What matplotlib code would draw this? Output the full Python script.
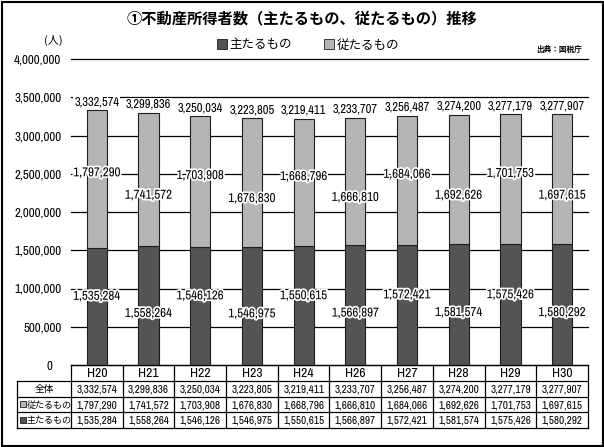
import matplotlib
matplotlib.use('Agg')
import matplotlib.pyplot as plt
import matplotlib.patheffects as pe
from matplotlib import font_manager
from matplotlib.patches import Rectangle, Patch
from matplotlib.textpath import TextPath
from matplotlib.ticker import FuncFormatter
from matplotlib.transforms import ScaledTranslation

# data
years = ['H20', 'H21', 'H22', 'H23', 'H24', 'H26', 'H27', 'H28', 'H29', 'H30']
totals = [3332574, 3299836, 3250034, 3223805, 3219411, 3233707, 3256487, 3274200, 3277179, 3277907]
sub_vals = [1797290, 1741572, 1703908, 1676830, 1668796, 1666810, 1684066, 1692626, 1701753, 1697615]
main_vals = [1535284, 1558264, 1546126, 1546975, 1550615, 1566897, 1572421, 1581574, 1575426, 1580292]

title = '①不動産所得者数（主たるもの、従たるもの）推移'
main_label = '主たるもの'
sub_label = '従たるもの'

# the reference uses a condensed face for numbers; use one if there is any
fonts = font_manager.fontManager.ttflist
narrow = [f for f in fonts
          if ('Narrow' in f.name or 'Condensed' in f.name or f.stretch in ('condensed', 'semi-condensed'))
          and f.weight in (400, 'normal', 'regular') and f.style == 'normal']
narrow.sort(key=lambda f: 0 if 'Narrow' in f.name else 1)
if narrow:
    NUM = font_manager.FontProperties(fname=narrow[0].fname)
else:
    NUM = font_manager.FontProperties(family='Liberation Sans')
JP = ['Noto Sans CJK JP', 'DejaVu Sans']
plt.rcParams['font.family'] = ['Liberation Sans', 'Noto Sans CJK JP', 'DejaVu Sans']

DARK = '#545454'
LIGHT = '#b5b5b5'
EDGE = '#1e1e1e'

W, H = 604, 447
fig = plt.figure(figsize=(W / 100, H / 100), dpi=100)


def px(x0, y0, x1, y1):
    # pixel box (left, top, right, bottom) -> figure fraction rect
    return [x0 / W, 1 - y1 / H, (x1 - x0) / W, (y1 - y0) / H]


def num(sample, width_px):
    # font size that makes `sample` about width_px wide
    p = NUM.copy()
    p.set_size(10)
    w = TextPath((0, 0), sample, prop=p).get_extents().width * 100 / 72
    p.set_size(10 * width_px / w)
    return p


f_tick = num('2,500,000', 46)
f_total = num('3,332,574', 45)
f_seg = num('1,797,290', 46)
f_cell = num('3,332,574', 40)
f_year = num('H20', 19)

# bar chart
ax = fig.add_axes(px(71, 59, 588, 365))
xs = list(range(len(years)))
ax.bar(xs, main_vals, width=0.39, color=DARK, edgecolor=EDGE, linewidth=0.8, zorder=3)
ax.bar(xs, sub_vals, bottom=main_vals, width=0.39, color=LIGHT, edgecolor=EDGE, linewidth=0.8, zorder=3)
ax.set_xlim(-0.5, len(years) - 0.5)
ax.set_ylim(0, 4000000)
ax.set_yticks(range(0, 4000001, 500000))
ax.yaxis.set_major_formatter(FuncFormatter(lambda v, p: f'{int(v):,}'))
ax.set_xticks([])
ax.tick_params(axis='y', length=0, pad=7)
for t in ax.get_yticklabels():
    t.set_fontproperties(f_tick)
# the zero label sits a bit further left in the original
zero = ax.yaxis.get_major_ticks()[0].label1
zero.set_transform(zero.get_transform() + ScaledTranslation(-0.09, 0, fig.dpi_scale_trans))
for s in ax.spines.values():
    s.set_visible(False)
ax.grid(axis='y', color='black', linewidth=0.9, zorder=0)
for gl in ax.get_ygridlines():
    gl.set_clip_on(False)

halo = [pe.withStroke(linewidth=2.5, foreground='white')]
for i in xs:
    ax.annotate(f'{totals[i]:,}', (i, totals[i]), xytext=(0, 3), textcoords='offset pixels',
                ha='center', va='bottom', fontproperties=f_total, zorder=5,
                bbox=dict(fc='white', ec='none', pad=0.6))
    up = i % 2 == 0
    ax.annotate(f'{sub_vals[i]:,}', (i, main_vals[i] + sub_vals[i] / 2),
                xytext=(0, 6 if up else -16), textcoords='offset pixels',
                ha='center', va='center', fontproperties=f_seg, zorder=5, path_effects=halo)
    ax.annotate(f'{main_vals[i]:,}', (i, main_vals[i] / 2),
                xytext=(0, 10 if up else -8), textcoords='offset pixels',
                ha='center', va='center', fontproperties=f_seg, zorder=5, path_effects=halo)

# data table below the bars
lab_w = 54 / 51.7
tax = fig.add_axes(px(17, 365, 588, 428))
tax.set_xlim(-0.5 - lab_w, len(years) - 0.5)
tax.set_ylim(4, 0)
tax.axis('off')
left = -0.5 - lab_w
right = len(years) - 0.5
lk = dict(color='black', linewidth=0.9, clip_on=False)
tax.plot([-0.5, right], [0, 0], **lk)
for r in [1, 2, 3, 4]:
    tax.plot([left, right], [r, r], **lk)
tax.plot([left, left], [1, 4], **lk)
for c in [-0.5] + [i + 0.5 for i in xs]:
    tax.plot([c, c], [0, 4], **lk)

rows = [totals, sub_vals, main_vals]
for i in xs:
    tax.text(i, 0.55, years[i], ha='center', va='center', fontproperties=f_year)
    for r, vals in enumerate(rows):
        tax.text(i, r + 1.55, f'{vals[i]:,}', ha='center', va='center', fontproperties=f_cell)

tax.text(left + lab_w / 2, 1.55, '全体', ha='center', va='center', fontsize=7, family=JP)
sq_w = 6 / 51.7
sq_h = 6 / 15.75
for r, (lab, col) in enumerate([(sub_label, LIGHT), (main_label, DARK)]):
    tax.add_patch(Rectangle((left + 3 / 51.7, r + 2.5 - sq_h / 2), sq_w, sq_h,
                            facecolor=col, edgecolor=EDGE, linewidth=0.6, clip_on=False))
    tax.text(left + 10 / 51.7, r + 2.55, lab, ha='left', va='center', fontsize=6.5, family=JP)

# title, legend, unit, source
fig.text(0.5, 1 - 18 / H, title, ha='center', va='center', fontsize=11,
         fontweight='bold', family=JP)
handles = [Patch(facecolor=DARK, edgecolor=EDGE, linewidth=0.6),
           Patch(facecolor=LIGHT, edgecolor=EDGE, linewidth=0.6)]
fig.legend(handles, [main_label, sub_label], loc='center', bbox_to_anchor=(308 / W, 1 - 45 / H),
           ncol=2, frameon=False, handlelength=0.8, handleheight=0.8, handletextpad=0.2,
           columnspacing=2.6, prop={'family': JP, 'size': 9})
fig.text(53 / W, 1 - 40 / H, '(人)', ha='center', va='center', fontsize=8, family=JP)
fig.text(582 / W, 1 - 49 / H, '出典：国税庁', ha='right', va='center', fontsize=5.5,
         fontweight='bold', family=JP)

fig.add_artist(Rectangle((1.5 / W, 1.5 / H), (W - 3) / W, (H - 3) / H, transform=fig.transFigure,
                         fill=False, edgecolor='black', linewidth=1.5))

fig.savefig('out.png', dpi=100)
